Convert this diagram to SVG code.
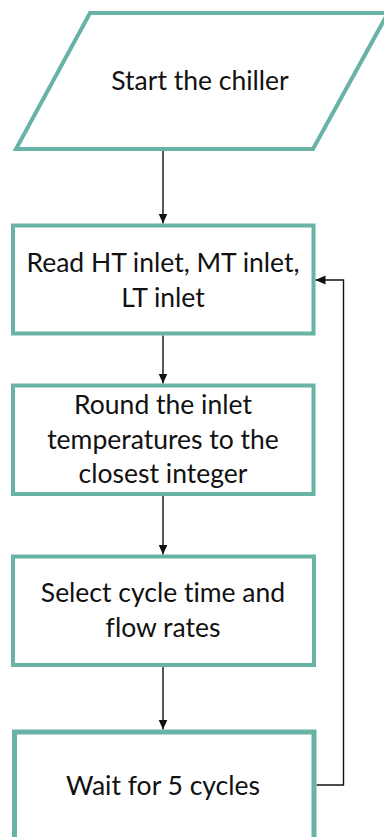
<svg xmlns="http://www.w3.org/2000/svg" width="384" height="837" viewBox="0 0 384 837">
  <style>
    .box { fill: #ffffff; stroke: #68B3A5; stroke-width: 4; }
    .box5 { fill: #ffffff; stroke: #68B3A5; stroke-width: 5; }
    .lbl { font-family: Lato, "Open Sans", sans-serif; font-size: 26.5px; fill: #111111; text-anchor: middle; font-variant-ligatures: none; }
    .conn { fill: none; stroke: #111111; stroke-width: 1.4; }
  </style>
  <defs>
    <marker id="arr" markerUnits="userSpaceOnUse" markerWidth="10" markerHeight="10" viewBox="0 0 10 10" refX="10" refY="5" orient="auto">
      <path d="M0,0.5 L10,5 L0,9.5 Z" fill="#111111"/>
    </marker>
  </defs>
  <rect width="384" height="837" fill="#ffffff"/>

  <g id="connectors">
    <line class="conn" x1="163" y1="151" x2="163" y2="223.5" marker-end="url(#arr)"/>
    <line class="conn" x1="163" y1="335.5" x2="163" y2="383.5" marker-end="url(#arr)"/>
    <line class="conn" x1="163" y1="495.5" x2="163" y2="554.5" marker-end="url(#arr)"/>
    <line class="conn" x1="163" y1="666.5" x2="163" y2="729.5" marker-end="url(#arr)"/>
    <polyline class="conn" points="316.5,785 343.5,785 343.5,280 315.5,280" marker-end="url(#arr)"/>
  </g>

  <g id="start">
    <polygon class="box" points="90,13 388,13 313,149 16,149"/>
    <text class="lbl" x="200" y="90">Start the chiller</text>
  </g>

  <g id="read">
    <rect class="box" x="13" y="225.5" width="300.5" height="108"/>
    <text class="lbl" x="163" y="272">Read HT inlet, MT inlet,</text>
    <text class="lbl" x="163" y="307">LT inlet</text>
  </g>

  <g id="round">
    <rect class="box" x="13" y="385.5" width="300.5" height="108.5"/>
    <text class="lbl" x="163" y="414">Round the inlet</text>
    <text class="lbl" x="163" y="448.5">temperatures to the</text>
    <text class="lbl" x="163" y="483">closest integer</text>
  </g>

  <g id="select">
    <rect class="box" x="13" y="556.5" width="301" height="108.5"/>
    <text class="lbl" x="163" y="602">Select cycle time and</text>
    <text class="lbl" x="163" y="637">flow rates</text>
  </g>

  <g id="wait">
    <rect class="box5" x="14.5" y="732" width="299.5" height="110"/>
    <text class="lbl" x="163" y="795">Wait for 5 cycles</text>
  </g>
</svg>
